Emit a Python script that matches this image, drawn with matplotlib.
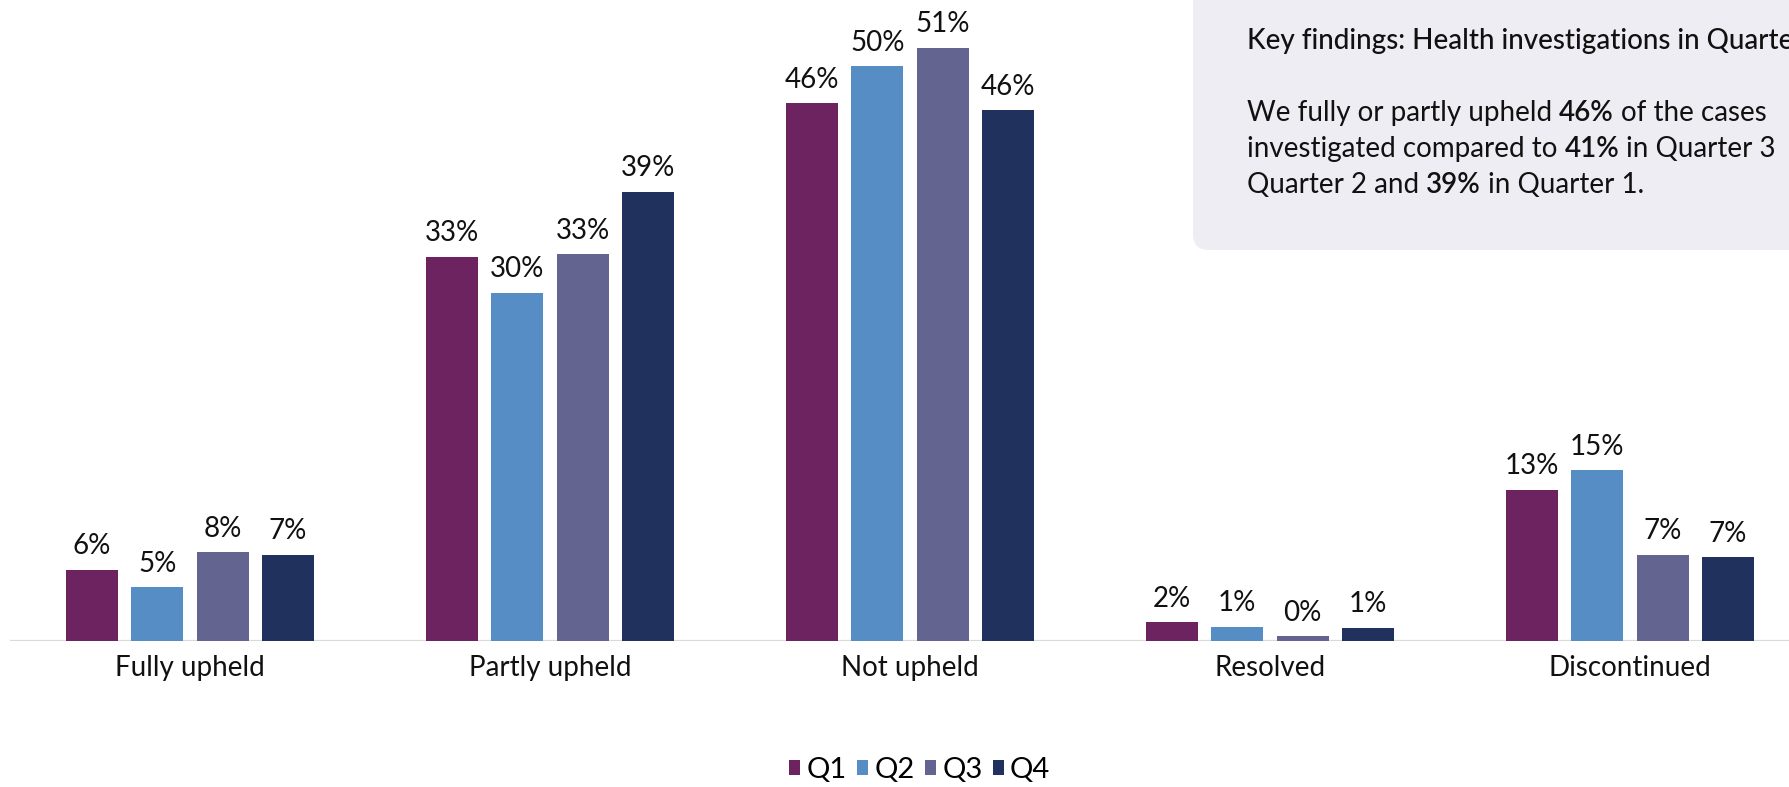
import matplotlib
matplotlib.use("Agg")
import matplotlib.pyplot as plt
from matplotlib.patches import FancyBboxPatch, Patch
from matplotlib.transforms import IdentityTransform

plt.rcParams["font.family"] = ["Lato", "DejaVu Sans"]

# Outcome categories and share of investigations (%) per quarter
categories = ["Fully upheld", "Partly upheld", "Not upheld", "Resolved", "Discontinued"]
quarters = ["Q1", "Q2", "Q3", "Q4"]
q1 = [6.1, 33.1, 46.3, 1.6, 13.0]
q2 = [4.6, 30.0, 49.5, 1.2, 14.7]
q3 = [7.6, 33.3, 51.1, 0.4, 7.4]
q4 = [7.4, 38.7, 45.7, 1.1, 7.2]
series = [q1, q2, q3, q4]
colors = ["#6d2360", "#568dc4", "#63648f", "#20315e"]

W, H = 1789, 787
fig = plt.figure(figsize=(W / 100, H / 100), dpi=100)
fig.patch.set_facecolor("white")

base_px = 640.5
px_per_pct = 11.6
ax = fig.add_axes([10 / W, (H - base_px) / H, 1800 / W, base_px / H])
ax.set_xlim(-0.5, len(categories) - 0.5)
ax.set_ylim(0, base_px / px_per_pct)
ax.axis("off")

pitch = 0.1815
bar_w = 0.1444
for j, (vals, col) in enumerate(zip(series, colors)):
    xs = [i + (j - 1.5) * pitch for i in range(len(categories))]
    ax.bar(xs, vals, width=bar_w, color=col, zorder=2)
    for x, v in zip(xs, vals):
        ax.annotate(f"{v:.0f}%", xy=(x, v), xytext=(0, 11), textcoords="offset points",
                    ha="center", va="baseline", fontsize=20, color="#111111")

ax.axhline(0, color="#d9d9d9", lw=1.6, zorder=1, xmin=0, xmax=1)

for i, cat in enumerate(categories):
    ax.annotate(cat, xy=(i, 0), xycoords=("data", "axes fraction"),
                xytext=(0, -25.6), textcoords="offset points",
                ha="center", va="baseline", fontsize=20, color="#111111")

handles = [Patch(facecolor=c, edgecolor="none") for c in colors]
fig.legend(handles, quarters, loc="center", bbox_to_anchor=(0.514, 0.022), ncol=4,
           frameon=False, fontsize=21, handlelength=0.4, handleheight=0.4,
           handletextpad=0.2, columnspacing=0.35, borderaxespad=0)

# Key findings panel
box = FancyBboxPatch((1193, H - 250), 800, 400, boxstyle="round,pad=0,rounding_size=16",
                     transform=IdentityTransform(), facecolor="#eeedf3", edgecolor="none",
                     zorder=0)
fig.patches.append(box)

renderer = fig.canvas.get_renderer()


def text_width(s, **kw):
    t = fig.text(0, 0, s, **kw)
    w = t.get_window_extent(renderer).width
    t.remove()
    return w


def draw_runs(x_px, baseline_from_top, runs, size=20):
    x = x_px
    y = (H - baseline_from_top) / H
    for k, (s, weight) in enumerate(runs):
        kw = dict(fontsize=size, fontweight=weight)
        fig.text(x / W, y, s, ha="left", va="baseline", color="#111111", **kw)
        x += text_width(s, **kw)
        if k < len(runs) - 1:
            x += text_width("a a", **kw) - text_width("aa", **kw)


left = 1247
draw_runs(left, 49, [("Key findings: Health investigations in Quarter 4", "medium")])
draw_runs(left, 121, [("We fully or partly upheld", "normal"), ("46%", "semibold"),
                      ("of the cases", "normal")])
draw_runs(left, 157, [("investigated compared to", "normal"), ("41%", "semibold"),
                      ("in Quarter 3", "normal")])
draw_runs(left, 193, [("Quarter 2 and", "normal"), ("39%", "semibold"),
                      ("in Quarter 1.", "normal")])

fig.savefig("out.png", dpi=100)
